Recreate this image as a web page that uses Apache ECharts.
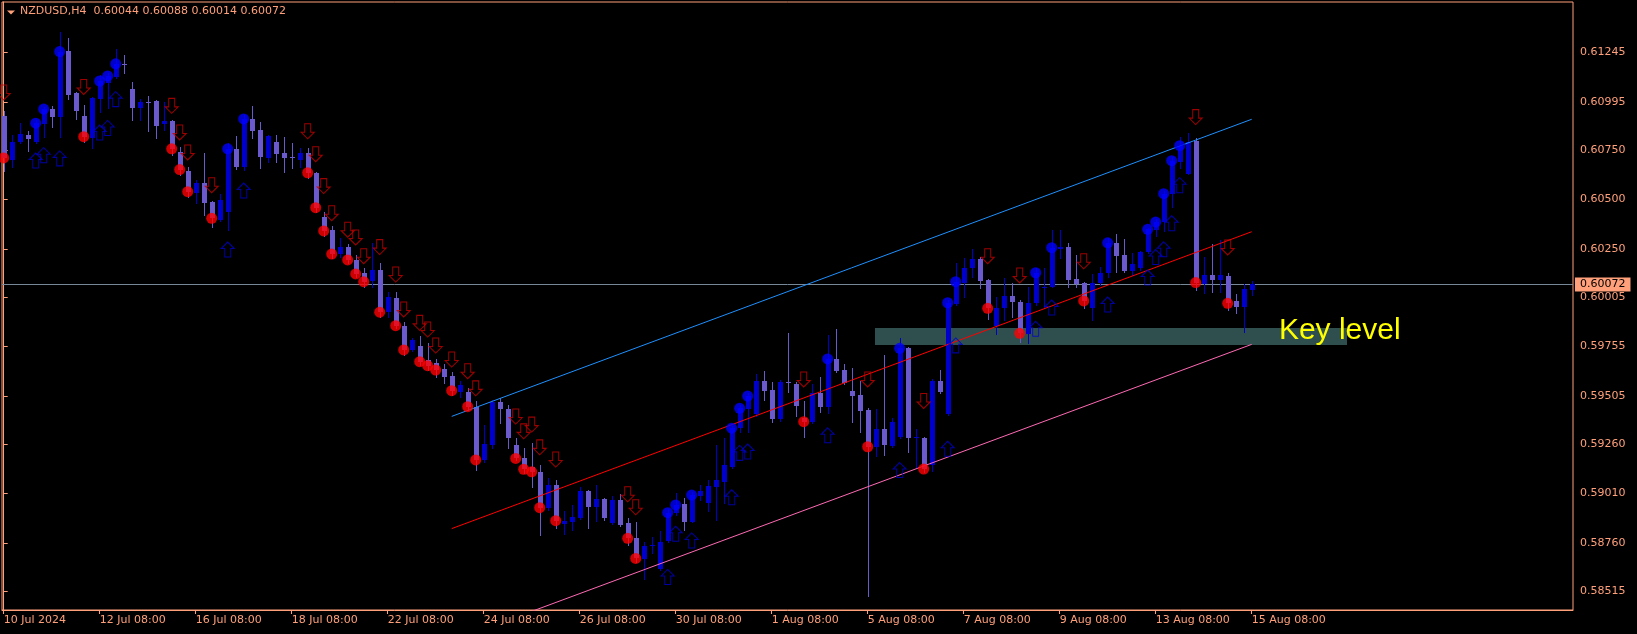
<!DOCTYPE html>
<html><head><meta charset="utf-8">
<script src="https://cdn.jsdelivr.net/npm/echarts@6/dist/echarts.min.js"></script>
<style>html,body{margin:0;padding:0;background:#000;}#c{width:1637px;height:634px;}</style>
</head><body><div id="c"></div>
<script>
// ---------- data ----------
const symbolTitle = 'NZDUSD,H4';
const lastQuote = ['0.60044', '0.60088', '0.60014', '0.60072'];
const currentPrice = [[0.60072, '0.60072']];

const xTickBars = [0, 12, 24, 36, 48, 60, 72, 84, 96, 108, 120, 132, 144, 156];
const xTickLabels = ['10 Jul 2024', '12 Jul 08:00', '16 Jul 08:00', '18 Jul 08:00', '22 Jul 08:00', '24 Jul 08:00',
  '26 Jul 08:00', '30 Jul 08:00', '1 Aug 08:00', '5 Aug 08:00', '7 Aug 08:00', '9 Aug 08:00', '13 Aug 08:00', '15 Aug 08:00'];
const yTickLabels = ['0.61245', '0.60995', '0.60750', '0.60500', '0.60250', '0.60005',
  '0.59755', '0.59505', '0.59260', '0.59010', '0.58760', '0.58515'];

const opens = [
0.60925,0.60702,0.60791,0.60828,0.60791,0.60883,0.60959,0.60920,0.61253,0.61039,
0.60924,0.60814,0.61010,0.61090,0.61123,0.61186,0.61061,0.60966,0.60996,0.61000,
0.60882,0.60897,0.60743,0.60645,0.60535,0.60583,0.60486,0.60397,0.60439,0.60757,
0.60667,0.60907,0.60853,0.60713,0.60791,0.60736,0.60715,0.60701,0.60735,0.60633,
0.60413,0.60346,0.60224,0.60258,0.60194,0.60126,0.60089,0.60143,0.59929,0.60000,
0.59859,0.59738,0.59758,0.59687,0.59670,0.59641,0.59606,0.59526,0.59526,0.59450,
0.59180,0.59256,0.59475,0.59438,0.59256,0.59188,0.59146,0.59120,0.58935,0.59053,
0.58854,0.58867,0.58884,0.59023,0.58943,0.58982,0.58862,0.58977,0.58862,0.58783,
0.58676,0.58744,0.58626,0.58769,0.58910,0.58957,0.58867,0.58997,0.58960,0.59044,
0.59070,0.59146,0.59341,0.59437,0.59413,0.59580,0.59535,0.59388,0.59575,0.59564,
0.59391,0.59371,0.59518,0.59450,0.59692,0.59636,0.59530,0.59509,0.59433,0.59247,
0.59337,0.59252,0.59298,0.59746,0.59293,0.59293,0.59154,0.59580,0.59411,0.59969,
0.60076,0.60152,0.60199,0.60092,0.59861,0.59949,0.60011,0.59982,0.59819,0.59974,
0.60052,0.60058,0.60251,0.60258,0.60098,0.60076,0.59952,0.60076,0.60126,0.60279,
0.60219,0.60140,0.60152,0.60236,0.60346,0.60386,0.60526,0.60692,0.60630,0.60797,
0.60074,0.60118,0.60092,0.60113,0.59986,0.59957,0.60044];
const highs = [
0.60949,0.60828,0.60887,0.60848,0.60904,0.60971,0.60975,0.61348,0.61318,0.61047,
0.60980,0.61022,0.61132,0.61140,0.61264,0.61233,0.61095,0.61010,0.61025,0.61005,
0.60996,0.60904,0.60768,0.60667,0.60599,0.60735,0.60493,0.60527,0.60785,0.60823,
0.60929,0.60975,0.60895,0.60828,0.60828,0.60819,0.60785,0.60763,0.60760,0.60641,
0.60439,0.60366,0.60305,0.60275,0.60219,0.60152,0.60279,0.60177,0.60033,0.60033,
0.59881,0.59800,0.59809,0.59772,0.59692,0.59665,0.59628,0.59580,0.59543,0.59479,
0.59357,0.59484,0.59496,0.59459,0.59290,0.59242,0.59264,0.59154,0.59087,0.59078,
0.58921,0.58952,0.59044,0.59028,0.59053,0.58989,0.58999,0.59006,0.58884,0.58867,
0.58766,0.58791,0.58820,0.58930,0.59014,0.58986,0.59019,0.59053,0.59078,0.59256,
0.59290,0.59352,0.59459,0.59518,0.59616,0.59631,0.59575,0.59585,0.59822,0.59577,
0.59479,0.59564,0.59602,0.59814,0.59844,0.59665,0.59646,0.59580,0.59442,0.59437,
0.59712,0.59391,0.59800,0.59754,0.59337,0.59298,0.59590,0.59636,0.59991,0.60177,
0.60202,0.60250,0.60211,0.60096,0.60008,0.60101,0.60076,0.59991,0.60058,0.60153,
0.60152,0.60346,0.60346,0.60280,0.60219,0.60084,0.60123,0.60160,0.60304,0.60324,
0.60300,0.60228,0.60239,0.60354,0.60402,0.60544,0.60716,0.60819,0.60839,0.60814,
0.60209,0.60275,0.60295,0.60129,0.60021,0.60072,0.60088];
const lows = [
0.60647,0.60667,0.60785,0.60748,0.60785,0.60819,0.60870,0.60819,0.61010,0.60909,
0.60794,0.60763,0.60943,0.60966,0.61118,0.61143,0.60904,0.60904,0.60848,0.60811,
0.60853,0.60726,0.60625,0.60515,0.60481,0.60422,0.60363,0.60392,0.60346,0.60655,
0.60650,0.60811,0.60662,0.60692,0.60692,0.60642,0.60659,0.60667,0.60608,0.60439,
0.60315,0.60204,0.60210,0.60177,0.60109,0.60058,0.60058,0.59906,0.59906,0.59848,
0.59712,0.59732,0.59661,0.59636,0.59602,0.59569,0.59509,0.59501,0.59433,0.59129,
0.59171,0.59242,0.59366,0.59239,0.59180,0.59112,0.59044,0.58800,0.58926,0.58833,
0.58803,0.58825,0.58881,0.58833,0.58870,0.58876,0.58855,0.58845,0.58749,0.58664,
0.58575,0.58707,0.58622,0.58766,0.58901,0.58825,0.58864,0.58977,0.58923,0.58876,
0.58960,0.59138,0.59323,0.59323,0.59403,0.59484,0.59374,0.59377,0.59525,0.59404,
0.59298,0.59366,0.59425,0.59417,0.59628,0.59564,0.59374,0.59323,0.58490,0.59200,
0.59205,0.59247,0.59290,0.59222,0.59146,0.59120,0.59124,0.59518,0.59408,0.59966,
0.60008,0.60109,0.60050,0.59895,0.59819,0.59890,0.59906,0.59780,0.59772,0.59966,
0.59949,0.60055,0.60202,0.60058,0.60058,0.59949,0.59890,0.60067,0.60109,0.60134,
0.60134,0.60118,0.60143,0.60228,0.60315,0.60341,0.60460,0.60659,0.60630,0.60042,
0.60024,0.60032,0.60033,0.59940,0.59927,0.59830,0.60014];
const closes = [
0.60711,0.60791,0.60833,0.60809,0.60887,0.60959,0.60919,0.61250,0.61030,0.60949,
0.60819,0.61014,0.61101,0.61127,0.61188,0.61184,0.60966,0.60993,0.60991,0.60875,
0.60897,0.60757,0.60652,0.60540,0.60583,0.60484,0.60405,0.60498,0.60757,0.60667,
0.60909,0.60848,0.60718,0.60823,0.60731,0.60713,0.60711,0.60735,0.60636,0.60459,
0.60341,0.60224,0.60261,0.60194,0.60123,0.60084,0.60143,0.59929,0.60008,0.59861,
0.59738,0.59788,0.59678,0.59658,0.59636,0.59602,0.59531,0.59560,0.59450,0.59180,
0.59259,0.59475,0.59437,0.59293,0.59188,0.59133,0.59120,0.58938,0.59053,0.58872,
0.58870,0.58889,0.59023,0.58943,0.58982,0.58884,0.58977,0.58850,0.58783,0.58681,
0.58745,0.58747,0.58766,0.58913,0.58952,0.58867,0.59002,0.59023,0.59048,0.59078,
0.59154,0.59341,0.59442,0.59504,0.59580,0.59531,0.59388,0.59577,0.59568,0.59455,
0.59374,0.59518,0.59450,0.59692,0.59633,0.59569,0.59506,0.59428,0.59247,0.59337,
0.59256,0.59371,0.59746,0.59293,0.59296,0.59134,0.59580,0.59526,0.59977,0.60084,
0.60152,0.60199,0.60089,0.59949,0.59949,0.60011,0.59979,0.59822,0.59974,0.60129,
0.60055,0.60256,0.60258,0.60092,0.60071,0.59986,0.60076,0.60126,0.60281,0.60216,
0.60140,0.60172,0.60233,0.60349,0.60386,0.60530,0.60697,0.60773,0.60794,0.60079,
0.60116,0.60092,0.60118,0.59974,0.59957,0.60045,0.60072];

// signal bars (dot at close) and arrow prices
const buyBars = [4,5,7,12,13,14,28,30,83,84,86,91,92,93,103,112,118,119,129,131,138,143,144,145,146,147];
const buyArrows = [0.60698,0.60725,0.60709,0.60840,0.60863,0.61009,0.60247,0.60546,0.58587,0.58806,0.58772,0.58991,0.59216,
  0.59223,0.59305,0.59129,0.59237,0.59761,0.59845,0.59953,0.59968,0.60105,0.60209,0.60248,0.60380,0.60573];
const sellBars = [0,10,21,22,23,26,38,39,40,41,43,44,45,47,49,50,52,53,54,56,58,59,64,65,66,67,69,78,79,100,108,115,123,127,135,149,153];
const sellArrows = [0.61043,0.61071,0.60975,0.60840,0.60739,0.60573,0.60846,0.60730,0.60568,0.60431,0.60347,0.60308,0.60213,
  0.60259,0.60120,0.59943,0.59875,0.59841,0.59760,0.59689,0.59630,0.59543,0.59400,0.59325,0.59359,0.59244,0.59182,0.59006,
  0.58940,0.59588,0.59588,0.59479,0.60213,0.60115,0.60187,0.60918,0.60257];

// regression channel end points [bar, price]
const channelUpper = [[56, 0.59401], [156, 0.60907]];
const channelMiddle = [[56, 0.58832], [156, 0.60337]];
const channelLower = [[56, 0.58262], [156, 0.59766]];

// key level rectangle [fromBar, topPrice, toBar, bottomPrice] and its text
const keyLevelBox = [[108.9, 0.59848, 167.9, 0.59763]];
const keyLevelText = [[159.4, 0.59835, 'Key level']];

// ---------- chart ----------
const FG = '#FFA07A';
const FONT = '"DejaVu Sans", Verdana, sans-serif';
const BULL = '#0000CD', BEAR = '#6A5ACD';
const UP_ARROW = 'path://M6.5,0L13,6.5L9.5,6.5L9.5,15L3.5,15L3.5,6.5L0,6.5Z';
const DOWN_ARROW = 'path://M3.5,0L9.5,0L9.5,8.5L13,8.5L6.5,15L0,8.5L3.5,8.5Z';

const candleData = opens.map((o, i) => [i, o, closes[i], lows[i], highs[i]]);
const yTickValues = yTickLabels.map(Number);

const chart = echarts.init(document.getElementById('c'), null, {renderer: 'canvas'});
chart.setOption({
  animation: false,
  backgroundColor: '#000',
  title: {
    text: symbolTitle + '  ' + lastQuote.join(' '),
    left: 20, top: 6, padding: 0,
    textStyle: {color: FG, fontSize: 11, fontWeight: 'normal', fontFamily: FONT}
  },
  graphic: [{type: 'polygon', shape: {points: [[7, 10.5], [15, 10.5], [11, 14.5]]}, style: {fill: FG}}],
  grid: {left: 2, top: 2, width: 1571, height: 608, show: true, borderColor: FG, borderWidth: 1, backgroundColor: '#000'},
  xAxis: {
    type: 'value', min: -0.2125, max: 196.1625,
    splitLine: {show: false},
    axisLine: {show: true, lineStyle: {color: FG}},
    axisTick: {show: true, length: 4, lineStyle: {color: FG}, customValues: xTickBars},
    axisLabel: {
      show: true, customValues: xTickBars, align: 'left', margin: 5,
      color: FG, fontSize: 11, fontFamily: FONT,
      formatter: v => xTickLabels[xTickBars.indexOf(Math.round(v))]
    }
  },
  yAxis: {
    type: 'value', position: 'right', min: 0.584195, max: 0.615015, scale: true,
    splitLine: {show: false},
    axisLine: {show: true, lineStyle: {color: FG}},
    axisTick: {show: true, length: 4, lineStyle: {color: FG}, customValues: yTickValues},
    axisLabel: {
      show: true, customValues: yTickValues, margin: 7,
      color: FG, fontSize: 11, fontFamily: FONT,
      formatter: v => yTickLabels[yTickValues.findIndex(t => Math.abs(t - v) < 1e-7)]
    }
  },
  series: [
    { // key level rectangle (background)
      type: 'custom', z: 1, clip: true, silent: true,
      data: keyLevelBox,
      renderItem(params, api) {
        const a = api.coord([api.value(0), api.value(1)]);
        const b = api.coord([api.value(2), api.value(3)]);
        return {type: 'rect', shape: {x: Math.round(a[0]), y: Math.round(a[1]), width: Math.round(b[0] - a[0]), height: Math.round(b[1] - a[1])},
          style: {fill: '#2F4F4F'}};
      }
    },
    { // current price (bid) line with its label box on the price scale
      type: 'custom', z: 2, clip: false, silent: true,
      encode: {y: 0},
      data: currentPrice,
      renderItem(params, api) {
        const cs = params.coordSys;
        const y = Math.round(api.coord([0, api.value(0)])[1]) + 0.5;
        return {type: 'group', children: [
          {type: 'line', shape: {x1: cs.x, y1: y, x2: cs.x + cs.width, y2: y}, style: {stroke: '#778899', lineWidth: 1}},
          {type: 'text', x: cs.x + cs.width + 2, y: y,
            style: {text: currentPrice[params.dataIndex][1], fill: '#000', backgroundColor: FG,
              padding: [2, 5, 1, 5], font: '11px ' + FONT, textAlign: 'left', textVerticalAlign: 'middle'}}
        ]};
      }
    },
    { // candles
      type: 'custom', z: 3, clip: true, silent: true,
      encode: {x: 0, y: [1, 2, 3, 4]},
      data: candleData,
      renderItem(params, api) {
        const i = api.value(0), o = api.value(1), c = api.value(2), l = api.value(3), h = api.value(4);
        const pO = api.coord([i, o]), pC = api.coord([i, c]), pL = api.coord([i, l]), pH = api.coord([i, h]);
        const cx = Math.round(pO[0]);
        const color = c >= o ? BULL : BEAR;
        const top = Math.round(Math.min(pO[1], pC[1])), bot = Math.round(Math.max(pO[1], pC[1]));
        return {type: 'group', children: [
          {type: 'line', shape: {x1: cx + 0.5, y1: Math.round(pH[1]), x2: cx + 0.5, y2: Math.round(pL[1]) + 1},
            style: {stroke: color, lineWidth: 1}},
          {type: 'rect', shape: {x: cx - 2, y: top, width: 5, height: Math.max(1, bot - top)}, style: {fill: color}}
        ]};
      }
    },
    {type: 'line', z: 4, data: channelUpper, symbol: 'none', silent: true, lineStyle: {color: '#1E90FF', width: 1}},
    {type: 'line', z: 4, data: channelMiddle, symbol: 'none', silent: true, lineStyle: {color: '#FF0000', width: 1}},
    {type: 'line', z: 4, data: channelLower, symbol: 'none', silent: true, lineStyle: {color: '#FF69B4', width: 1}},
    {type: 'scatter', z: 5, silent: true, symbol: 'circle', symbolSize: 11, itemStyle: {color: '#0000FF'},
      data: buyBars.map(b => [b, closes[b]])},
    {type: 'scatter', z: 5, silent: true, symbol: 'circle', symbolSize: 11, itemStyle: {color: '#FF0000'},
      data: sellBars.map(b => [b, closes[b]])},
    {type: 'scatter', z: 6, silent: true, symbol: UP_ARROW, symbolSize: [13, 15],
      itemStyle: {color: 'rgba(0,0,0,0)', borderColor: '#0000D0', borderWidth: 1},
      data: buyBars.map((b, k) => [b, buyArrows[k]])},
    {type: 'scatter', z: 6, silent: true, symbol: DOWN_ARROW, symbolSize: [13, 15],
      itemStyle: {color: 'rgba(0,0,0,0)', borderColor: '#C80000', borderWidth: 1},
      data: sellBars.map((b, k) => [b, sellArrows[k]])},
    { // key level text
      type: 'custom', z: 7, silent: true, clip: false,
      data: keyLevelText,
      renderItem(params, api) {
        const p = api.coord([api.value(0), api.value(1)]);
        return {type: 'text', x: p[0], y: p[1],
          style: {text: keyLevelText[params.dataIndex][2], fill: '#FFFF00', font: '30px "Liberation Sans", Arial, sans-serif',
            textAlign: 'left', textVerticalAlign: 'middle'}};
      }
    }
  ]
});
</script></body></html>
